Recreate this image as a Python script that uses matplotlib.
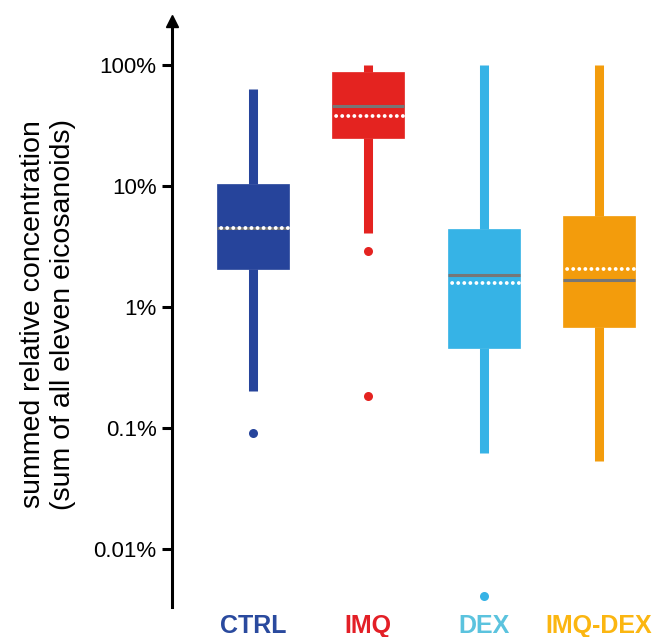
import matplotlib
matplotlib.use('Agg')
import matplotlib.pyplot as plt

# ------------------------------------------------------------
# data (percent)
# ------------------------------------------------------------
groups = ['CTRL', 'IMQ', 'DEX', 'IMQ-DEX']
q1 = [2.06, 24.9, 0.458, 0.683]
q3 = [10.4, 87.5, 4.41, 5.65]
medians = [4.5, 45.7, 1.84, 1.67]
means = [4.5, 37.9, 1.58, 2.06]
whis_lo = [0.20, 4.09, 0.062, 0.0534]
whis_hi = [63.0, 100.0, 100.0, 100.0]
fliers = [[0.091], [2.9, 0.184], [0.0041], []]

box_colors = ['#26449b', '#e42320', '#36b3e6', '#f39c0c']
label_colors = ['#2a4a9e', '#e31f26', '#5bc3de', '#fbb611']

yticks = [0.01, 0.1, 1, 10, 100]
ytick_labels = ['0.01%', '0.1%', '1%', '10%', '100%']

plt.rcParams['font.family'] = ['Liberation Sans', 'DejaVu Sans']

fig = plt.figure(figsize=(6.55, 6.37), dpi=100)
ax = fig.add_axes([172 / 655, 1 - 607 / 637, 1 - 172 / 655, (607 - 21) / 637])

stats = []
for i, g in enumerate(groups):
    stats.append(dict(label=g, q1=q1[i], q3=q3[i], med=medians[i], mean=means[i],
                      whislo=whis_lo[i], whishi=whis_hi[i], fliers=fliers[i]))

pos = list(range(1, len(groups) + 1))
bp = ax.bxp(stats, positions=pos, widths=0.626, patch_artist=True,
            showmeans=True, meanline=True, showcaps=False,
            medianprops=dict(color='#767676', linewidth=2.2, solid_capstyle='butt'),
            meanprops=dict(color='white', linewidth=2.8, linestyle=(0.5, (0.01, 1.55)),
                           dash_capstyle='round'),
            whiskerprops=dict(linewidth=6.5, solid_capstyle='butt'),
            flierprops=dict(marker='o', markersize=6.5, markeredgewidth=0))

for i, c in enumerate(box_colors):
    bp['boxes'][i].set_facecolor(c)
    bp['boxes'][i].set_edgecolor(c)
    bp['boxes'][i].set_linewidth(0.5)
    bp['boxes'][i].set_zorder(3)
    for w in bp['whiskers'][2 * i:2 * i + 2]:
        w.set_color(c)
        w.set_zorder(2)
    bp['fliers'][i].set_markerfacecolor(c)
    bp['medians'][i].set_zorder(4)
    bp['means'][i].set_zorder(5)

ax.set_yscale('log')
ax.set_ylim(0.00331, 230)
ax.set_xlim(0.2975, 4.486)

ax.set_yticks(yticks)
ax.set_yticklabels(ytick_labels, fontsize=16)
ax.minorticks_off()
ax.tick_params(axis='y', direction='out', length=7, width=2.2, pad=4)

ax.set_xticks(pos)
ax.set_xticklabels(groups, fontsize=18, fontweight='bold')
for lbl, c in zip(ax.get_xticklabels(), label_colors):
    lbl.set_color(c)
ax.tick_params(axis='x', length=0, pad=5)

for s in ['top', 'right', 'bottom']:
    ax.spines[s].set_visible(False)
ax.spines['left'].set_linewidth(2.2)
ax.plot(0, 1, marker='^', color='black', markersize=9, transform=ax.transAxes,
        clip_on=False)

ax.set_ylabel('summed relative concentration\n(sum of all eleven eicosanoids)',
              fontsize=20.5, linespacing=1.2)
ax.yaxis.set_label_coords((76 - 172) / 483, 0.5)

fig.savefig('out.png', dpi=100)
